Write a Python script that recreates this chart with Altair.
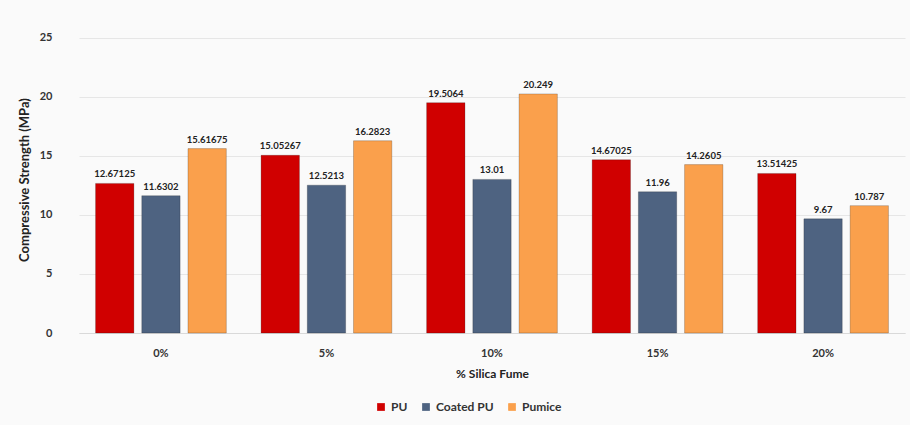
import altair as alt
import pandas as pd

categories = ["0%", "5%", "10%", "15%", "20%"]
series = ["PU", "Coated PU", "Pumice"]
pu = [12.67125, 15.05267, 19.5064, 14.67025, 13.51425]
coated = [11.6302, 12.5213, 13.01, 11.96, 9.67]
pumice = [15.61675, 16.2823, 20.249, 14.2605, 10.787]
pu_lbl = ["12.67125", "15.05267", "19.5064", "14.67025", "13.51425"]
coated_lbl = ["11.6302", "12.5213", "13.01", "11.96", "9.67"]
pumice_lbl = ["15.61675", "16.2823", "20.249", "14.2605", "10.787"]
colors = ["#D00000", "#4E6381", "#FAA04C"]

rows = []
for s, vals, lbls in zip(series, [pu, coated, pumice], [pu_lbl, coated_lbl, pumice_lbl]):
    for c, v, l in zip(categories, vals, lbls):
        rows.append({"cat": c, "series": s, "value": v, "label": l})
df = pd.DataFrame(rows)

FONT = "Lato"

x = alt.X("cat:N", sort=categories, title="% Silica Fume",
          scale=alt.Scale(paddingInner=0.21, paddingOuter=0.1),
          axis=alt.Axis(labelAngle=0, ticks=False, domainColor="#D9D9D9",
                        labelPadding=14, titlePadding=10, labelFontSize=11,
                        titleFontSize=12, labelFont=FONT, titleFont=FONT,
                        labelFontWeight="bold", titleFontWeight="bold",
                        labelColor="#333333", titleColor="#222222"))
xo = alt.XOffset("series:N", sort=series, scale=alt.Scale(paddingInner=0.17))
y = alt.Y("value:Q", title="Compressive Strength (MPa)",
          scale=alt.Scale(domain=[0, 25]),
          axis=alt.Axis(values=[0, 5, 10, 15, 20, 25], ticks=False, domain=False,
                        gridColor="#E6E6E6", labelPadding=27, titlePadding=8,
                        labelFontSize=11, titleFontSize=13, labelFont=FONT,
                        titleFont=FONT, labelFontWeight="bold",
                        titleFontWeight="bold", labelColor="#333333",
                        titleColor="#222222"))
color = alt.Color("series:N", sort=series,
                  scale=alt.Scale(domain=series, range=colors),
                  legend=alt.Legend(orient="none", legendX=296, legendY=375,
                                    direction="horizontal",
                                    title=None, symbolType="square",
                                    symbolSize=60, labelFont=FONT,
                                    labelFontSize=12, labelFontWeight="bold",
                                    labelColor="#333333",
                                    columnPadding=12, symbolStrokeWidth=0))

bars = alt.Chart(df).mark_bar(stroke="#00000033", strokeWidth=1).encode(
    x=x, xOffset=xo, y=y, color=color)
text = alt.Chart(df).mark_text(dy=-9, fontSize=9.5, fontWeight="bold",
                               font=FONT, color="#222222").encode(
    x=alt.X("cat:N", sort=categories), xOffset=xo, y="value:Q", text="label:N")

chart = alt.layer(bars, text).properties(
    width=826, height=307,
    autosize=alt.AutoSizeParams(type="none"),
    padding={"left": 79, "top": 26, "right": 5, "bottom": 92},
    background="#FAFAFA",
).configure_view(stroke=None)

chart.save("out.html", embed_options={"renderer": "svg", "actions": False})
